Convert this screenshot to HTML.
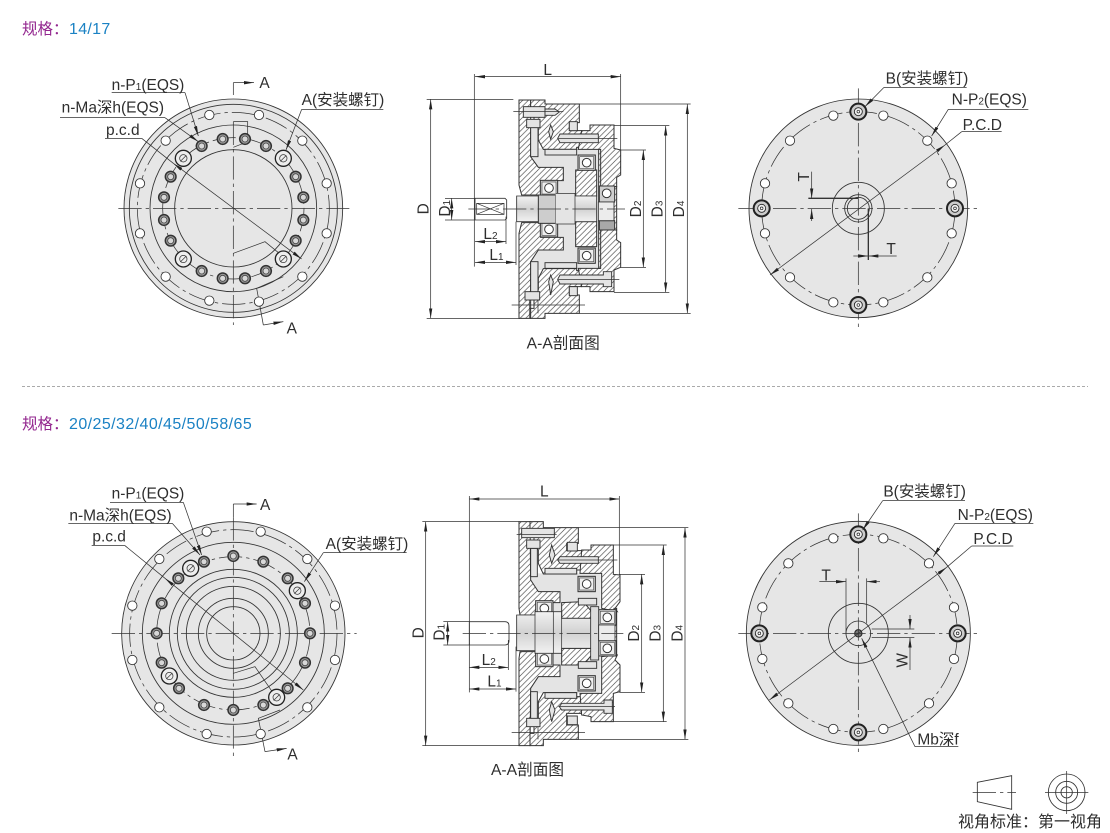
<!DOCTYPE html>
<html lang="zh"><head><meta charset="utf-8"><title>规格图</title>
<style>
html,body{margin:0;padding:0;background:#fff}
svg{display:block}
text{font-family:"Liberation Sans","Noto Sans CJK SC",sans-serif;fill:#2e2e2e}
.t{font-size:46.5px}
.s{font-size:30px}
.l{fill:none;stroke:#333;stroke-width:2.2}
.d{fill:none;stroke:#333;stroke-width:2.2;marker-end:url(#a)}
.dd{fill:none;stroke:#333;stroke-width:2.2;marker-start:url(#a);marker-end:url(#a)}
.c{fill:none;stroke:#333;stroke-width:2.2;stroke-dasharray:70 12 10 12}
.r{fill:none;stroke:#333;stroke-width:2.6}
.h{fill:url(#hatch);stroke:#333;stroke-width:3}
.w{fill:#fff;stroke:#333;stroke-width:2.8}
.g{fill:#e6e6e6;stroke:#333;stroke-width:2.6}
.e{fill:#e4e4e4;stroke:none}
.q{fill:#e4e4e4;stroke:#333;stroke-width:2.8}
</style></head><body>
<svg width="1110" height="833" viewBox="0 0 1110 833" xmlns="http://www.w3.org/2000/svg">
<defs>
<pattern id="hatch" patternUnits="userSpaceOnUse" width="17" height="17">
<rect width="17" height="17" fill="#fff"/>
<path d="M-2,19 L19,-2 M-2,2 L2,-2 M15,19 L19,15" stroke="#444" stroke-width="1.9"/>
</pattern>
<linearGradient id="sh" x1="0" y1="0" x2="0" y2="1">
<stop offset="0" stop-color="#f2f2f2"/><stop offset=".5" stop-color="#d2d2d2"/><stop offset="1" stop-color="#f2f2f2"/>
</linearGradient>
<marker id="a" markerUnits="userSpaceOnUse" markerWidth="30" markerHeight="12" viewBox="0 0 30 12" refX="30" refY="6" orient="auto-start-reverse">
<path d="M0,1 L30,6 L0,11Z" fill="#222"/>
</marker>
<g id="o"><circle r="14" fill="#fff" stroke="#333" stroke-width="2.6"/></g>
<g id="i"><circle r="16" fill="#999" stroke="#333" stroke-width="4.5"/><circle r="9" fill="#d8d8d8" stroke="#444" stroke-width="2.4"/></g>
<g id="L"><circle r="24" fill="#eee" stroke="#222" stroke-width="4"/><circle r="11" fill="#eee" stroke="#333" stroke-width="2.2"/><path d="M-9,9 L9,-9" stroke="#333" stroke-width="2"/></g>
<g id="B"><circle r="24" fill="#ccc" stroke="#222" stroke-width="6"/><circle r="12" fill="#eee" stroke="#222" stroke-width="2.6"/><circle r="4" fill="#fff" stroke="#222" stroke-width="2"/></g>
<g id="br"><rect x="-26" y="-23" width="52" height="46" fill="#cfcfcf" stroke="#333" stroke-width="3"/><rect x="-21" y="-18" width="42" height="36" fill="#efefef" stroke="#555" stroke-width="2"/><circle r="13" fill="#fff" stroke="#333" stroke-width="3"/></g>
</defs>

<rect width="1110" height="833" fill="#fff"/>
<text x="22" y="34" font-size="15.5" style="fill:#93278f">规格&#xFF1A;</text>
<text x="69" y="34" font-size="16" letter-spacing=".3" style="fill:#1b82c4">14/17</text>
<line x1="22" y1="386.5" x2="1088" y2="386.5" stroke="#aaa" stroke-width="1" stroke-dasharray="3 2"/>
<text x="22" y="429" font-size="15.5" style="fill:#93278f">规格&#xFF1A;</text>
<text x="69" y="429" font-size="16" letter-spacing=".42" style="fill:#1b82c4">20/25/32/40/45/50/58/65</text>

<!-- Top left -->
<g transform="translate(50 60) scale(.33333)">
<circle cx="550" cy="445" r="328" class="g"/>
<circle cx="550" cy="445" r="312" class="r"/>
<circle cx="550" cy="445" r="288" class="c"/>
<circle cx="550" cy="445" r="250" class="r"/>
<circle cx="550" cy="445" r="176" class="r"/>
<circle cx="550" cy="445" r="212" class="c" stroke-dasharray="40 14"/>
<path class="c" d="M205,445H898"/>
<path class="l" d="M550,68V105"/><path class="c" d="M550,185V795"/>
<path class="d" d="M550,68H612"/>
<path class="l" d="M550,185H593V245L550,262M550,580L645,545L700,590M700,650L620,685L640,795"/><path class="d" d="M640,795L700,785"/>
<use href="#o" x="478" y="165"/><use href="#o" x="627" y="165"/><use href="#o" x="757" y="242"/><use href="#o" x="830" y="370"/><use href="#o" x="830" y="520"/><use href="#o" x="757" y="650"/><use href="#o" x="627" y="725"/><use href="#o" x="478" y="722"/><use href="#o" x="347" y="650"/><use href="#o" x="270" y="520"/><use href="#o" x="270" y="370"/><use href="#o" x="347" y="242"/>
<use href="#i" x="455" y="258"/><use href="#i" x="518" y="237"/><use href="#i" x="585" y="237"/><use href="#i" x="648" y="258"/><use href="#i" x="737" y="350"/><use href="#i" x="760" y="412"/><use href="#i" x="760" y="480"/><use href="#i" x="737" y="542"/><use href="#i" x="648" y="633"/><use href="#i" x="585" y="655"/><use href="#i" x="518" y="655"/><use href="#i" x="455" y="633"/><use href="#i" x="362" y="542"/><use href="#i" x="342" y="480"/><use href="#i" x="342" y="412"/><use href="#i" x="362" y="350"/>
<use href="#L" x="700" y="295"/><use href="#L" x="700" y="597"/><use href="#L" x="400" y="597"/><use href="#L" x="400" y="295"/>
<path class="l" d="M185,98H405"/><path class="d" d="M405,98L445,228"/>
<path class="l" d="M30,173H345"/><path class="d" d="M345,173L445,245"/>
<path class="l" d="M165,235H275"/><path class="dd" d="M370,310L755,597"/><path class="l" d="M275,235L370,310"/>
<path class="l" d="M755,148H1000"/><path class="d" d="M755,148L708,270"/>
<text class="t" x="185" y="90">n-P<tspan class="s">1</tspan>(EQS)</text>
<text class="t" x="35" y="158">n-Ma深h(EQS)</text>
<text class="t" x="168" y="225">p.c.d</text>
<text class="t" x="755" y="135">A(安装螺钉)</text>
<text class="t" x="628" y="84">A</text>
<text class="t" x="710" y="820">A</text>
</g>

<!-- Top section -->
<g transform="translate(410 60) scale(.33333)">
<rect x="362" y="265" width="210" height="365" class="e"/>
<polygon class="h" points="327,120 362,120 362,290 385,322 460,322 460,362 392,362 392,405 335,405 327,375"/>
<polygon class="h" points="327,775 362,775 362,605 385,570 460,570 460,532 392,532 392,488 335,488 327,520"/>
<polygon class="h" points="362,120 405,120 405,132 508,132 508,188 478,188 478,212 515,212 515,262 500,262 500,268 400,268 385,240 385,205 372,195 372,150 362,150"/>
<polygon class="h" points="362,775 405,775 405,760 508,760 508,705 478,705 478,680 515,680 515,632 500,632 500,626 400,626 385,655 385,690 372,700 372,745 362,745"/>
<polygon class="h" points="540,195 612,195 612,265 632,270 632,345 620,352 620,380 570,380 570,268 505,268 515,212 540,212"/>
<polygon class="h" points="540,695 612,695 612,630 632,622 632,548 620,540 620,510 570,510 570,625 505,625 515,680 540,680"/>
<polygon class="h" points="497,330 560,330 560,408 497,408"/>
<polygon class="h" points="497,485 560,485 560,560 497,560"/>
<polygon class="h" points="566,268 572,268 572,625 566,625"/>
<rect x="612" y="380" width="8" height="130" class="h"/>
<rect x="340" y="140" width="65" height="32" class="q"/><path class="q" d="M405,147H435L448,156L435,166H405Z"/>
<rect x="362" y="180" width="22" height="110" class="q"/><rect x="362" y="605" width="22" height="115" class="q"/>
<rect x="350" y="178" width="40" height="25" class="q"/><rect x="345" y="695" width="44" height="25" class="q"/>
<path class="l" d="M358,720V775M384,720V760"/>
<path class="q" d="M422,195L430,215L422,238L416,215Z"/><path class="q" d="M422,645L430,665L422,705L416,665Z"/>
<rect x="478" y="185" width="24" height="27" class="q"/><rect x="478" y="680" width="24" height="27" class="q"/>
<rect x="405" y="268" width="95" height="17" class="q"/><rect x="405" y="608" width="95" height="17" class="q"/>
<path class="q" d="M450,222H565V248H450L443,235Z"/>
<path class="q" d="M450,645H580V635H605V680H580V672H450L443,658Z"/>
<use href="#br" x="530" y="308"/><use href="#br" x="530" y="587"/>
<use href="#br" x="417" y="384"/><use href="#br" x="417" y="508"/>
<rect x="568" y="378" width="46" height="48" fill="#cfcfcf" stroke="#333" stroke-width="3"/><circle cx="590" cy="400" r="13" fill="#fff" stroke="#333" stroke-width="3"/>
<rect x="568" y="482" width="46" height="28" fill="#a8a8a8" stroke="#333" stroke-width="3"/>
<path fill="url(#sh)" stroke="#333" stroke-width="2.6" d="M320,408H560V485H320Z"/>
<rect x="385" y="405" width="52" height="85" fill="#cdcdcd" stroke="#333" stroke-width="3"/>
<rect x="437" y="400" width="58" height="92" class="e"/><path class="l" d="M437,400H495V492H437"/>
<path fill="#ececec" stroke="#333" stroke-width="2.6" d="M565,426H612V482H565Z"/>
<path d="M195,415H285L290,420V475L285,480H195Z" fill="#fff" stroke="#333" stroke-width="2.6"/>
<path class="l" d="M200,430H282V463H200ZM200,430L282,463M200,463L282,430"/>
<path class="c" d="M175,447H645"/>
<path class="l" d="M310,155H460M445,235H622M305,735H525M445,658H628"/>
<!-- dims -->
<path class="l" d="M193,42V620M632,42V270M50,118H310M50,775H330M105,415H195M105,480H195M288,470V552M318,485V615M632,270H708M632,622H708M612,197H778M612,697H778M508,132H842M508,760H842"/>
<path class="dd" d="M195,50H632"/><path class="dd" d="M62,118V775"/><path class="dd" d="M125,415V480"/>
<path class="dd" d="M195,545H288"/><path class="dd" d="M195,607H318"/><path class="dd" d="M700,270V622"/><path class="dd" d="M767,197V697"/><path class="dd" d="M832,132V760"/>
<text class="t" x="400" y="45">L</text>
<text class="t" x="220" y="537">L<tspan class="s">2</tspan></text>
<text class="t" x="238" y="600">L<tspan class="s">1</tspan></text>
<text class="t" transform="translate(56 463) rotate(-90)">D</text>
<text class="t" transform="translate(120 470) rotate(-90)">D<tspan class="s">1</tspan></text>
<text class="t" transform="translate(693 472) rotate(-90)">D<tspan class="s">2</tspan></text>
<text class="t" transform="translate(757 472) rotate(-90)">D<tspan class="s">3</tspan></text>
<text class="t" transform="translate(822 472) rotate(-90)">D<tspan class="s">4</tspan></text>
<text x="350" y="865" font-size="47">A-A剖面图</text>
</g>

<!-- Top right -->
<g transform="translate(730 60) scale(.33333)">
<circle cx="385" cy="445" r="328" class="g"/>
<circle cx="385" cy="445" r="290" class="c"/>
<circle cx="385" cy="445" r="78" class="r"/>
<circle cx="385" cy="445" r="41" class="r"/><circle cx="385" cy="445" r="33" class="r"/>
<path class="c" d="M385,85V805M25,445H745"/>
<use href="#o" x="310" y="167"/><use href="#o" x="460" y="167"/><use href="#o" x="592" y="242"/><use href="#o" x="665" y="370"/><use href="#o" x="665" y="520"/><use href="#o" x="592" y="652"/><use href="#o" x="460" y="727"/><use href="#o" x="310" y="727"/><use href="#o" x="180" y="652"/><use href="#o" x="105" y="520"/><use href="#o" x="105" y="370"/><use href="#o" x="180" y="242"/>
<use href="#B" x="385" y="155"/><use href="#B" x="95" y="445"/><use href="#B" x="675" y="445"/><use href="#B" x="385" y="735"/>
<path fill="none" stroke="#333" stroke-width="4" d="M235,415H385M415,445V600"/>
<path class="l" d="M462,82H710"/><path class="d" d="M462,82L405,140"/>
<path class="l" d="M655,148H895"/><path class="d" d="M655,148L605,228"/>
<path class="l" d="M695,215H815"/><path class="l" d="M695,215L645,255"/><path class="dd" d="M645,255L120,645"/>
<path class="d" d="M245,335V415"/><path class="d" d="M245,483V447"/>
<path class="d" d="M370,588H415"/><path class="d" d="M500,588H415"/>
<text class="t" x="467" y="70">B(安装螺钉)</text>
<text class="t" x="665" y="134">N-P<tspan class="s">2</tspan>(EQS)</text>
<text class="t" x="698" y="210">P.C.D</text>
<text class="t" transform="translate(237 365) rotate(-90)">T</text>
<text class="t" x="469" y="582">T</text>
</g>

<!-- Bottom left -->
<g transform="translate(60 480) scale(.33333)">
<circle cx="520" cy="460" r="335" class="g"/>
<circle cx="520" cy="460" r="311" class="c"/>
<circle cx="520" cy="460" r="273" class="r"/>
<circle cx="520" cy="460" r="230" class="c" stroke-dasharray="40 14"/>
<circle cx="520" cy="460" r="192" class="r"/><circle cx="520" cy="460" r="168" class="r"/><circle cx="520" cy="460" r="141" class="r"/><circle cx="520" cy="460" r="105" class="r"/><circle cx="520" cy="460" r="80" class="r"/>
<path class="c" d="M155,460H890"/><path class="l" d="M520,72V112"/><path class="c" d="M520,112V830"/>
<path class="d" d="M520,72H590"/>
<path class="l" d="M520,580L585,560L640,640M660,690L595,715L615,815"/><path class="d" d="M615,815L680,805"/>
<use href="#o" x="440" y="155"/><use href="#o" x="602" y="155"/><use href="#o" x="742" y="237"/><use href="#o" x="825" y="377"/><use href="#o" x="825" y="540"/><use href="#o" x="742" y="682"/><use href="#o" x="602" y="762"/><use href="#o" x="440" y="762"/><use href="#o" x="298" y="682"/><use href="#o" x="217" y="540"/><use href="#o" x="217" y="377"/><use href="#o" x="298" y="237"/>
<use href="#i" x="432" y="245"/><use href="#i" x="355" y="295"/><use href="#i" x="305" y="370"/><use href="#i" x="290" y="460"/><use href="#i" x="305" y="548"/><use href="#i" x="357" y="625"/><use href="#i" x="432" y="675"/><use href="#i" x="520" y="690"/><use href="#i" x="610" y="675"/><use href="#i" x="683" y="625"/><use href="#i" x="735" y="548"/><use href="#i" x="750" y="460"/><use href="#i" x="735" y="370"/><use href="#i" x="683" y="295"/><use href="#i" x="610" y="245"/><use href="#i" x="520" y="228"/>
<use href="#L" x="392" y="265"/><use href="#L" x="712" y="332"/><use href="#L" x="328" y="588"/><use href="#L" x="650" y="652"/>
<path class="l" d="M150,67H370"/><path class="d" d="M370,67L425,225"/>
<path class="l" d="M25,130H337"/><path class="d" d="M337,130L420,225"/>
<path class="l" d="M95,197H195L315,295"/><path class="dd" d="M315,295L730,630"/>
<path class="l" d="M790,218H1040"/><path class="d" d="M790,218L733,305"/>
<text class="t" x="155" y="55">n-P<tspan class="s">1</tspan>(EQS)</text>
<text class="t" x="28" y="122">n-Ma深h(EQS)</text>
<text class="t" x="97" y="184">p.c.d</text>
<text class="t" x="797" y="207">A(安装螺钉)</text>
<text class="t" x="600" y="90">A</text>
<text class="t" x="682" y="838">A</text>
</g>

<!-- Bottom section -->
<g transform="translate(410 480) scale(.33333)">
<rect x="362" y="280" width="210" height="360" class="e"/>
<polygon class="h" points="327,125 360,125 362,300 385,335 450,335 450,368 378,368 378,405 330,405 327,385"/>
<polygon class="h" points="327,797 360,797 362,625 385,590 450,590 450,555 378,555 378,515 330,515 327,535"/>
<polygon class="h" points="360,125 400,125 400,143 505,143 505,190 470,190 470,212 515,212 515,270 500,270 500,282 400,282 385,250 385,210 372,200 372,165 360,165"/>
<polygon class="h" points="360,797 400,797 400,778 505,778 505,735 470,735 470,700 515,700 515,650 500,650 500,638 400,638 385,665 385,715 372,725 372,760 360,760"/>
<polygon class="h" points="543,195 610,195 610,283 630,285 630,365 615,385 622,395 575,385 575,280 510,280 515,210 543,210"/>
<polygon class="h" points="543,725 610,725 610,640 630,635 630,555 615,540 622,525 575,530 575,640 510,640 515,705 543,710"/>
<polygon class="h" points="455,368 520,365 545,395 545,415 455,415"/>
<polygon class="h" points="455,505 545,505 545,525 520,555 455,555"/>
<rect x="612" y="385" width="8" height="140" class="h"/>
<rect x="335" y="145" width="98" height="28" class="q"/>
<rect x="362" y="205" width="20" height="85" class="q"/><rect x="362" y="635" width="20" height="85" class="q"/>
<rect x="350" y="180" width="40" height="25" class="q"/><rect x="350" y="715" width="40" height="25" class="q"/>
<path class="l" d="M360,740V797M384,740V778"/>
<path class="q" d="M425,195L435,225L425,250L418,225Z"/><path class="q" d="M425,665L435,690L425,725L418,690Z"/>
<rect x="472" y="187" width="30" height="26" class="q"/><rect x="472" y="708" width="30" height="26" class="q"/>
<rect x="405" y="265" width="95" height="17" class="q"/><rect x="405" y="638" width="95" height="17" class="q"/>
<path class="q" d="M450,230H565V250H450L443,240Z"/>
<path class="q" d="M455,670H582V660H607V700H582V690H455L448,680Z"/>
<use href="#br" x="530" y="312"/><use href="#br" x="530" y="610"/>
<rect x="505" y="355" width="55" height="20" class="q"/><rect x="505" y="545" width="55" height="20" class="q"/>
<use href="#br" x="403" y="385"/><use href="#br" x="403" y="537"/>
<use href="#br" x="592" y="412"/><use href="#br" x="592" y="505"/>
<path fill="url(#sh)" stroke="#333" stroke-width="2.6" d="M320,405H375V395H455V415H545V505H455V520H375V512H320Z"/>
<path class="l" d="M375,405V512M430,395V520M455,395V520"/>
<rect x="542" y="380" width="24" height="160" fill="#dcdcdc" stroke="#333" stroke-width="2.6"/>
<path fill="#ececec" stroke="#333" stroke-width="2.6" d="M566,435H615V482H566Z"/>
<path d="M178,425H285Q297,425 297,438V482Q297,495 285,495H178Z" fill="#fff" stroke="#333" stroke-width="2.6"/>
<path class="c" d="M158,460H640"/>
<path class="l" d="M320,163H440M445,240H622M305,757H525M445,680H615"/>
<path class="l" d="M178,48V637M628,48V283M37,125H327M37,797H327M100,425H180M100,495H180M295,480V570M318,500V635M628,283H705M628,637H705M610,195H770M610,725H770M505,143H835M505,778H835"/>
<path class="dd" d="M178,57H628"/><path class="dd" d="M47,125V797"/><path class="dd" d="M113,425V495"/>
<path class="dd" d="M178,562H295"/><path class="dd" d="M178,627H318"/><path class="dd" d="M695,283V637"/><path class="dd" d="M760,195V725"/><path class="dd" d="M825,143V778"/>
<text class="t" x="390" y="50">L</text>
<text class="t" x="215" y="555">L<tspan class="s">2</tspan></text>
<text class="t" x="232" y="620">L<tspan class="s">1</tspan></text>
<text class="t" transform="translate(40 475) rotate(-90)">D</text>
<text class="t" transform="translate(104 482) rotate(-90)">D<tspan class="s">1</tspan></text>
<text class="t" transform="translate(687 485) rotate(-90)">D<tspan class="s">2</tspan></text>
<text class="t" transform="translate(752 485) rotate(-90)">D<tspan class="s">3</tspan></text>
<text class="t" transform="translate(817 485) rotate(-90)">D<tspan class="s">4</tspan></text>
<text x="243" y="885" font-size="47">A-A剖面图</text>
</g>

<!-- Bottom right -->
<g transform="translate(730 480) scale(.33333)">
<circle cx="385" cy="460" r="336" class="g"/>
<circle cx="385" cy="460" r="297" class="c"/>
<circle cx="385" cy="460" r="90" class="r"/>
<circle cx="385" cy="460" r="37" class="r"/><circle cx="385" cy="460" r="11" fill="#777" stroke="#222" stroke-width="3"/>
<path class="c" d="M385,100V820M25,460H745"/>
<use href="#o" x="310" y="175"/><use href="#o" x="460" y="175"/><use href="#o" x="597" y="250"/><use href="#o" x="672" y="382"/><use href="#o" x="672" y="537"/><use href="#o" x="597" y="670"/><use href="#o" x="460" y="747"/><use href="#o" x="310" y="747"/><use href="#o" x="175" y="670"/><use href="#o" x="97" y="537"/><use href="#o" x="97" y="382"/><use href="#o" x="175" y="250"/>
<use href="#B" x="385" y="163"/><use href="#B" x="88" y="460"/><use href="#B" x="683" y="460"/><use href="#B" x="385" y="757"/>
<path class="l" d="M348,295V460M410,295V430M425,447H553M425,473H553"/>
<path class="l" d="M458,62H705"/><path class="d" d="M458,62L398,150"/>
<path class="l" d="M675,130H910"/><path class="d" d="M675,130L610,230"/>
<path class="l" d="M725,198H850"/><path class="l" d="M725,198L650,262"/><path class="dd" d="M650,262L118,660"/>
<path class="d" d="M268,305H348"/><path class="d" d="M450,305H410"/>
<path class="d" d="M540,405V447"/><path class="d" d="M540,570V473"/>
<path class="l" d="M685,800H555"/><path class="d" d="M555,800L395,475"/>
<text class="t" x="460" y="50">B(安装螺钉)</text>
<text class="t" x="683" y="120">N-P<tspan class="s">2</tspan>(EQS)</text>
<text class="t" x="730" y="192">P.C.D</text>
<text class="t" x="274" y="302">T</text>
<text class="t" transform="translate(532 563) rotate(-90)">W</text>
<text class="t" x="562" y="793">Mb深f</text>
</g>

<!-- Projection symbol -->
<g transform="translate(950 765) scale(.33333)">
<polygon points="82,52 185,32 185,133 82,110" fill="none" stroke="#333" stroke-width="2.6"/>
<path class="c" d="M68,82H198" stroke-dasharray="40 8 8 8"/>
<circle cx="350" cy="82" r="55" class="r"/><circle cx="350" cy="82" r="33" class="r"/><circle cx="350" cy="82" r="17" class="r"/>
<path class="l" d="M285,82H415M350,18V147"/>
</g>
<text x="958" y="827" font-size="16">视角标准&#xFF1A;第一视角</text>
</svg>
</body></html>
